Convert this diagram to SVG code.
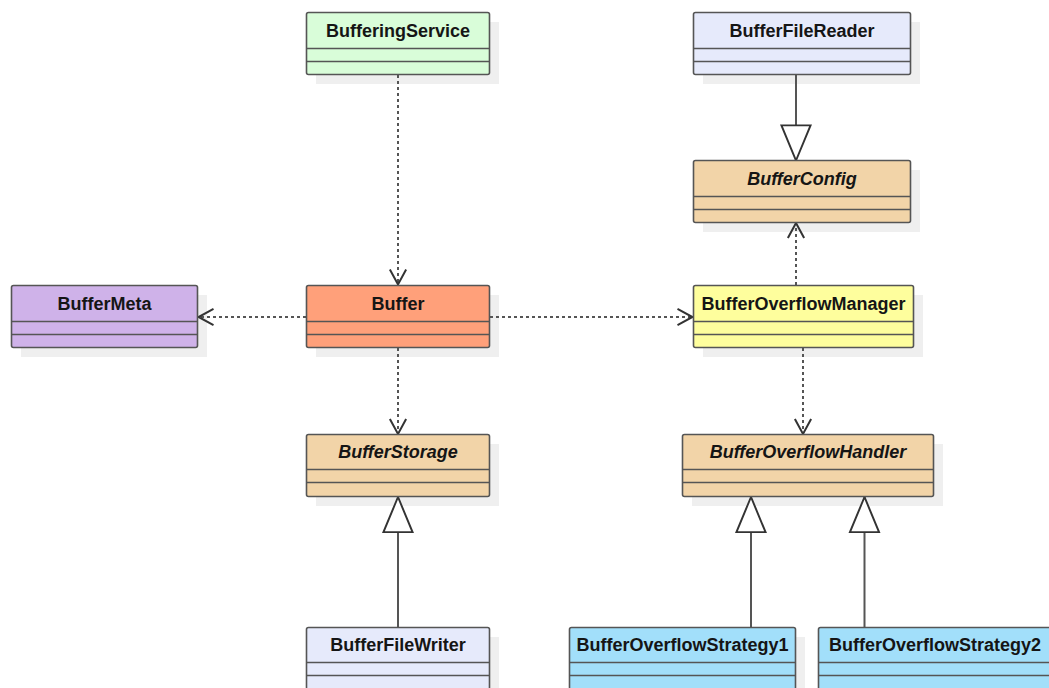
<svg xmlns="http://www.w3.org/2000/svg" width="1049" height="688" viewBox="0 0 1049 688">
<style>
.shadow{fill:#efefef;stroke:none}
.box{stroke:#555;stroke-width:1.6}
.div{stroke:#555;stroke-width:1.6}
.t{font-family:"Liberation Sans",Arial,sans-serif;font-size:18px;font-weight:bold;fill:#151515;text-anchor:middle}
.i{font-style:italic}
.dash{stroke:#555;stroke-width:2;stroke-dasharray:3,3;fill:none}
.solid{stroke:#555;stroke-width:2;fill:none}
.green{fill:#d9fdd9}.salmon{fill:#ffa07a}.purple{fill:#cfb2e9}.yellow{fill:#fefe9d}.tan{fill:#f2d4a8}.lav{fill:#e6eafb}.blue{fill:#a2dffa}
</style>
<defs>
<marker id="open" markerUnits="userSpaceOnUse" markerWidth="20" markerHeight="20" viewBox="-14 -8 16 16" refX="0" refY="0" orient="auto">
<path d="M-12,-6.5 L0,0 L-12,6.5" fill="none" stroke="#333" stroke-width="1.6"/>
</marker>
<marker id="tri" markerUnits="userSpaceOnUse" markerWidth="40" markerHeight="40" viewBox="-31 -14 33 28" refX="0" refY="0" orient="auto">
<path d="M0,0 L-29,-12 L-29,12 Z" fill="#fff" stroke="#333" stroke-width="1.6"/>
</marker>
</defs>
<g id="shadows">
<rect class="shadow" x="316" y="22" width="183" height="62"/>
<rect class="shadow" x="703" y="22" width="217" height="62"/>
<rect class="shadow" x="703" y="170" width="217" height="62"/>
<rect class="shadow" x="21" y="295" width="186" height="62"/>
<rect class="shadow" x="316" y="295" width="183" height="62"/>
<rect class="shadow" x="703" y="295" width="220" height="62"/>
<rect class="shadow" x="316" y="444" width="183" height="62"/>
<rect class="shadow" x="692" y="444" width="251" height="62"/>
<rect class="shadow" x="316" y="637" width="183" height="62"/>
<rect class="shadow" x="579" y="637" width="226" height="62"/>
</g>
<g id="connectors">
<line class="dash" x1="398" y1="75" x2="398" y2="284.5" marker-end="url(#open)"/>
<line class="dash" x1="306" y1="317" x2="198.5" y2="317" marker-end="url(#open)"/>
<line class="dash" x1="490" y1="317" x2="692.5" y2="317" marker-end="url(#open)"/>
<line class="dash" x1="796" y1="285" x2="796" y2="223" marker-end="url(#open)"/>
<line class="dash" x1="803" y1="348" x2="803" y2="434" marker-end="url(#open)"/>
<line class="dash" x1="398" y1="348" x2="398" y2="434" marker-end="url(#open)"/>
<line class="solid" x1="796" y1="75" x2="796" y2="160.5" marker-end="url(#tri)"/>
<line class="solid" x1="398" y1="627" x2="398" y2="497" marker-end="url(#tri)"/>
<line class="solid" x1="751" y1="627" x2="751" y2="497" marker-end="url(#tri)"/>
<line class="solid" x1="864.5" y1="627" x2="864.5" y2="497" marker-end="url(#tri)"/>
</g>
<g id="BufferingService">
<rect class="box green" x="306.5" y="12.5" width="183" height="62" rx="2"/>
<line class="div" x1="306.5" y1="48.5" x2="489.5" y2="48.5"/>
<line class="div" x1="306.5" y1="61.5" x2="489.5" y2="61.5"/>
<text class="t" x="398" y="37">BufferingService</text>
</g>
<g id="BufferFileReader">
<rect class="box lav" x="693.5" y="12.5" width="217" height="62" rx="2"/>
<line class="div" x1="693.5" y1="48.5" x2="910.5" y2="48.5"/>
<line class="div" x1="693.5" y1="61.5" x2="910.5" y2="61.5"/>
<text class="t" x="802" y="37">BufferFileReader</text>
</g>
<g id="BufferConfig">
<rect class="box tan" x="693.5" y="160.5" width="217" height="62" rx="2"/>
<line class="div" x1="693.5" y1="196.5" x2="910.5" y2="196.5"/>
<line class="div" x1="693.5" y1="209.5" x2="910.5" y2="209.5"/>
<text class="t i" x="802" y="185">BufferConfig</text>
</g>
<g id="BufferMeta">
<rect class="box purple" x="11.5" y="285.5" width="186" height="62" rx="2"/>
<line class="div" x1="11.5" y1="321.5" x2="197.5" y2="321.5"/>
<line class="div" x1="11.5" y1="334.5" x2="197.5" y2="334.5"/>
<text class="t" x="104.5" y="310">BufferMeta</text>
</g>
<g id="Buffer">
<rect class="box salmon" x="306.5" y="285.5" width="183" height="62" rx="2"/>
<line class="div" x1="306.5" y1="321.5" x2="489.5" y2="321.5"/>
<line class="div" x1="306.5" y1="334.5" x2="489.5" y2="334.5"/>
<text class="t" x="398" y="310">Buffer</text>
</g>
<g id="BufferOverflowManager">
<rect class="box yellow" x="693.5" y="285.5" width="220" height="62" rx="2"/>
<line class="div" x1="693.5" y1="321.5" x2="913.5" y2="321.5"/>
<line class="div" x1="693.5" y1="334.5" x2="913.5" y2="334.5"/>
<text class="t" x="803.5" y="310">BufferOverflowManager</text>
</g>
<g id="BufferStorage">
<rect class="box tan" x="306.5" y="434.5" width="183" height="62" rx="2"/>
<line class="div" x1="306.5" y1="469.5" x2="489.5" y2="469.5"/>
<line class="div" x1="306.5" y1="482.5" x2="489.5" y2="482.5"/>
<text class="t i" x="398" y="458">BufferStorage</text>
</g>
<g id="BufferOverflowHandler">
<rect class="box tan" x="682.5" y="434.5" width="251" height="62" rx="2"/>
<line class="div" x1="682.5" y1="469.5" x2="933.5" y2="469.5"/>
<line class="div" x1="682.5" y1="482.5" x2="933.5" y2="482.5"/>
<text class="t i" x="808" y="458">BufferOverflowHandler</text>
</g>
<g id="BufferFileWriter">
<rect class="box lav" x="306.5" y="627.5" width="183" height="62" rx="2"/>
<line class="div" x1="306.5" y1="662.5" x2="489.5" y2="662.5"/>
<line class="div" x1="306.5" y1="675.5" x2="489.5" y2="675.5"/>
<text class="t" x="398" y="651">BufferFileWriter</text>
</g>
<g id="BufferOverflowStrategy1">
<rect class="box blue" x="569.5" y="627.5" width="226" height="62" rx="2"/>
<line class="div" x1="569.5" y1="662.5" x2="795.5" y2="662.5"/>
<line class="div" x1="569.5" y1="675.5" x2="795.5" y2="675.5"/>
<text class="t" x="682.5" y="651">BufferOverflowStrategy1</text>
</g>
<g id="BufferOverflowStrategy2">
<rect class="box blue" x="818.5" y="627.5" width="233" height="62" rx="2"/>
<line class="div" x1="818.5" y1="662.5" x2="1051.5" y2="662.5"/>
<line class="div" x1="818.5" y1="675.5" x2="1051.5" y2="675.5"/>
<text class="t" x="935" y="651">BufferOverflowStrategy2</text>
</g>
</svg>
